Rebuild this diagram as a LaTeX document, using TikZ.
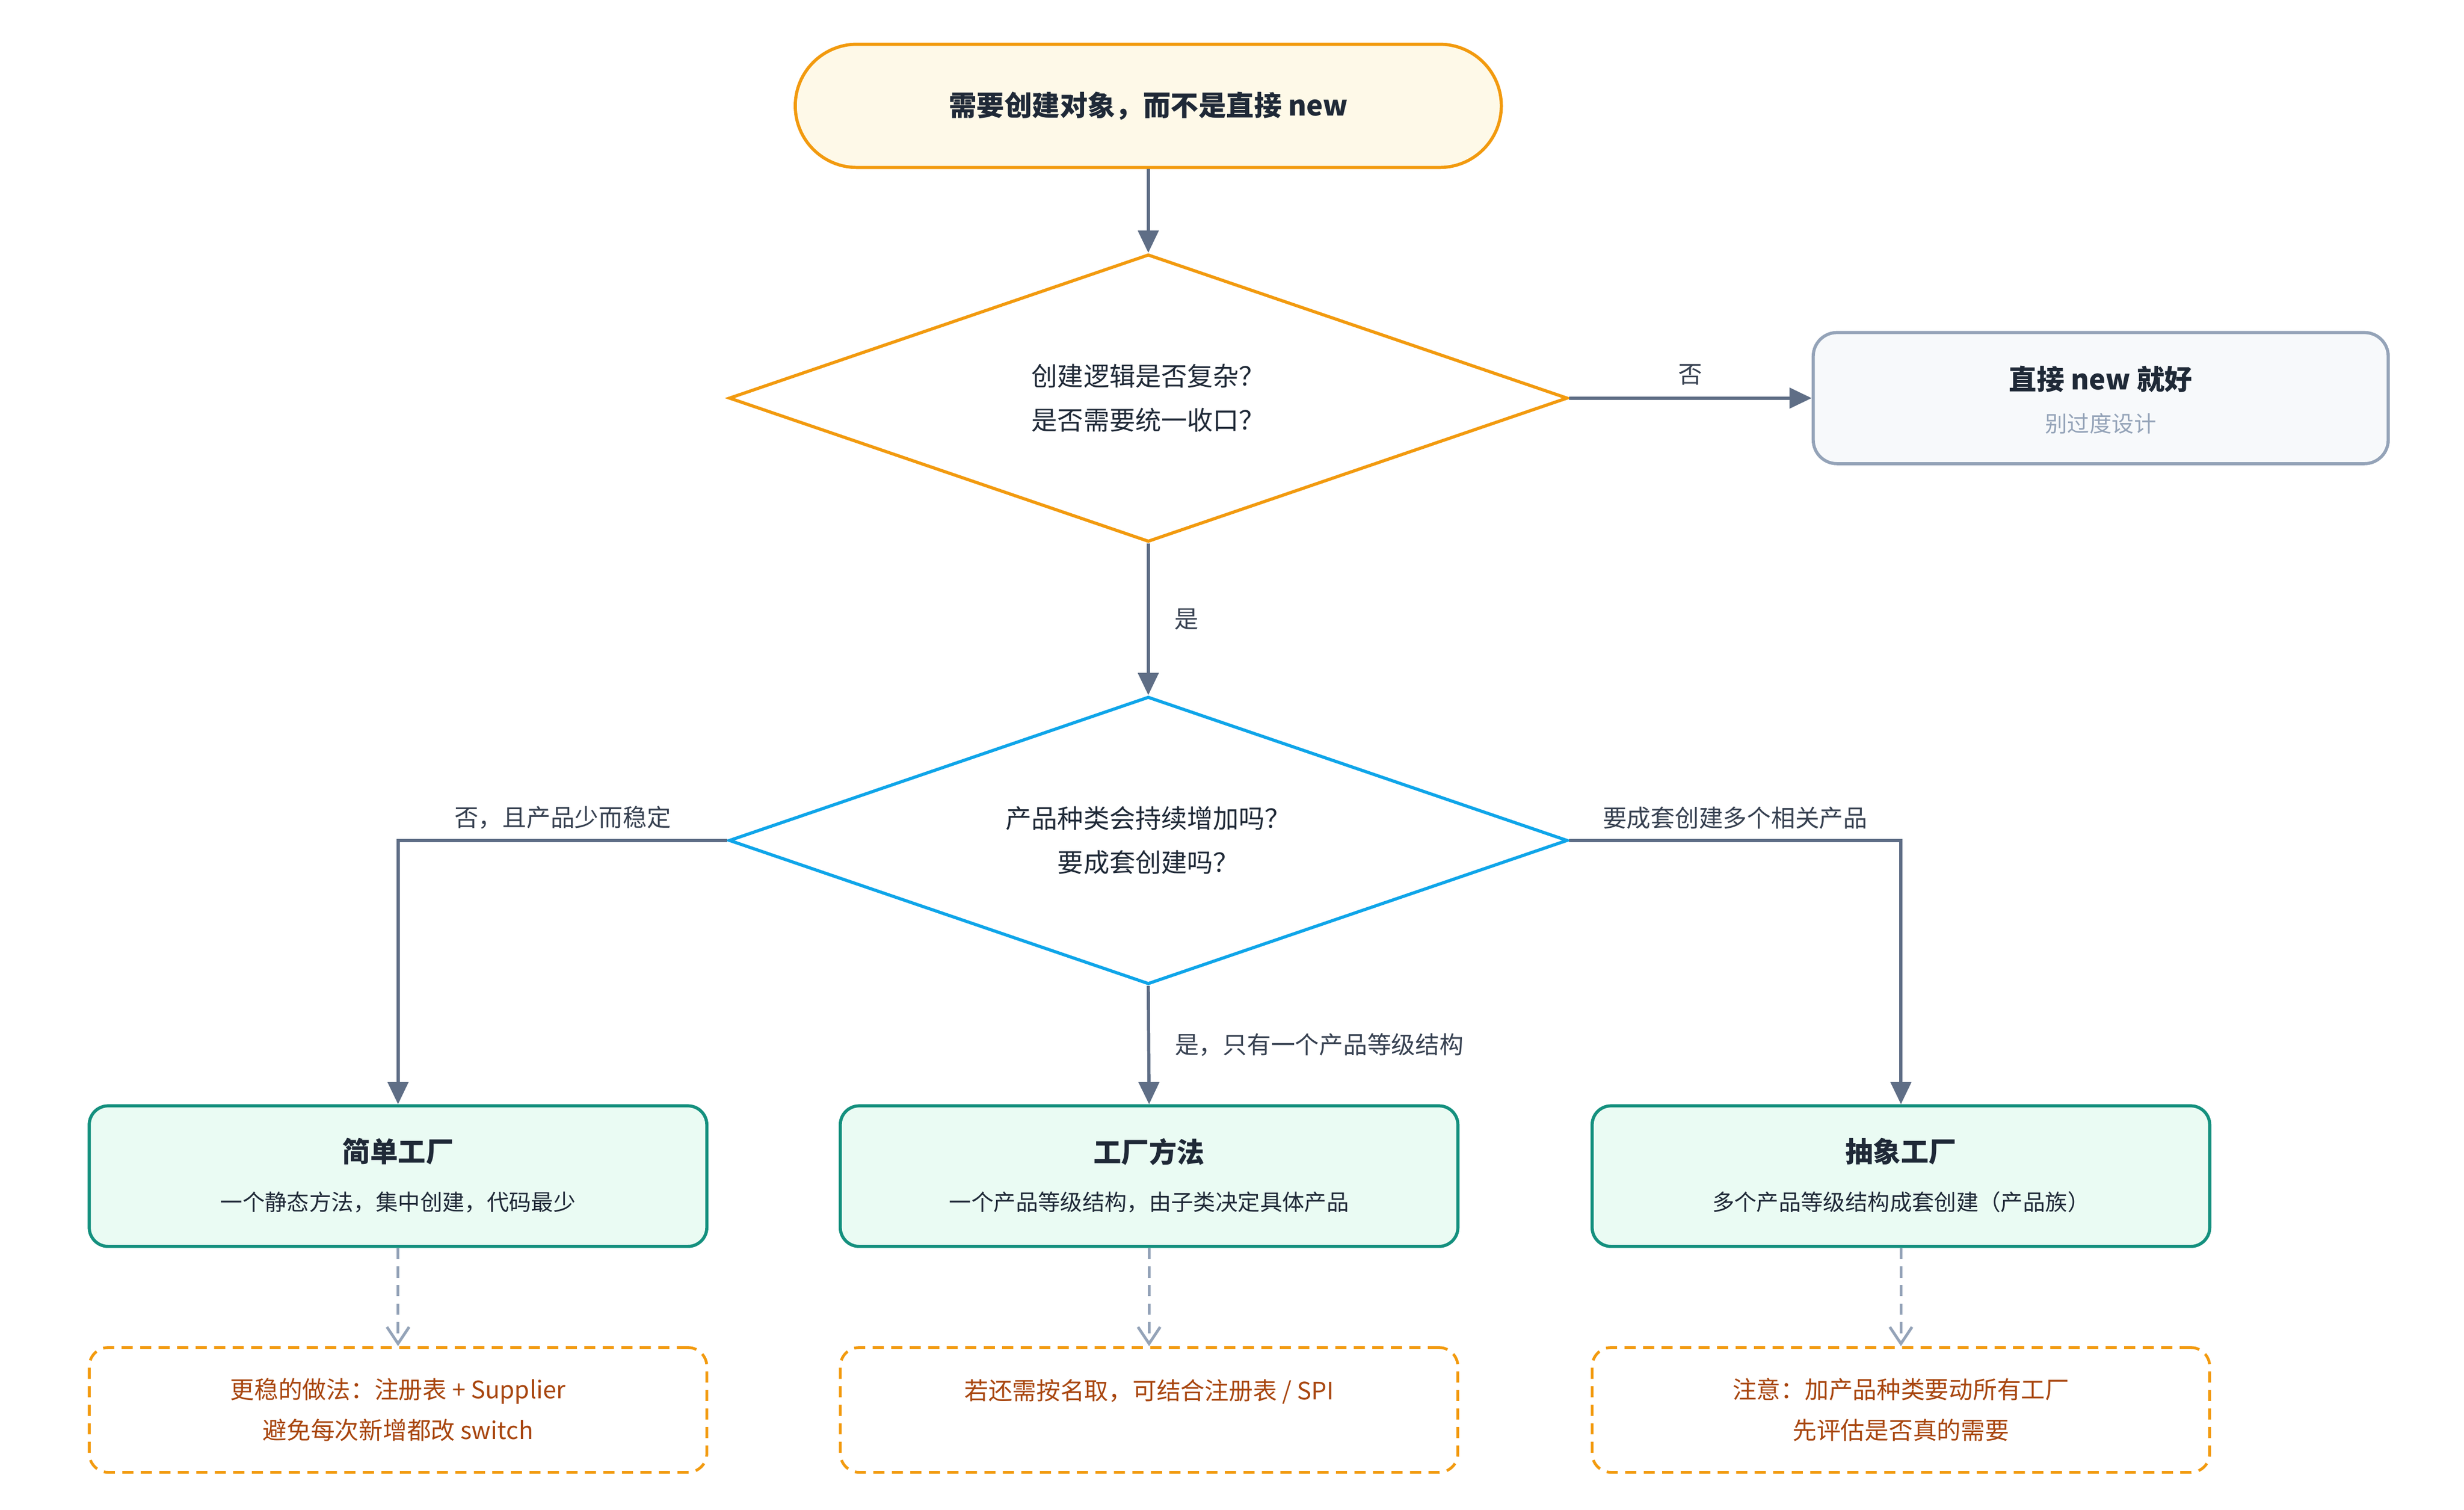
\documentclass[tikz,border=0pt]{standalone}
\usepackage{fontspec}
\setmainfont{Noto Sans CJK SC}
\usetikzlibrary{shapes.geometric,arrows.meta}
\definecolor{orng}{HTML}{F29A0E}
\definecolor{yel}{HTML}{FEF9E8}
\definecolor{blu}{HTML}{0EA5E9}
\definecolor{teal}{HTML}{14907E}
\definecolor{mint}{HTML}{EAFBF3}
\definecolor{slate}{HTML}{5F6E86}
\definecolor{gr}{HTML}{94A3B8}
\definecolor{grfill}{HTML}{F7F9FB}
\definecolor{txt}{HTML}{1F2937}
\definecolor{lbl}{HTML}{374151}
\definecolor{brn}{HTML}{A8460F}
\begin{document}
\begin{tikzpicture}[x=0.03cm,y=-0.03cm,
  every node/.style={text=txt},
  big/.style={font=\fontsize{15}{18}\selectfont\bfseries},
  sub/.style={font=\fontsize{12}{14}\selectfont},
  lab/.style={font=\fontsize{13}{16}\selectfont,text=lbl},
  dia/.style={diamond,draw,line width=1.7pt,fill=white,minimum width=15.93cm,minimum height=5.46cm,shape aspect=2.92,inner sep=0pt,align=center,font=\fontsize{14}{24}\selectfont},
  res/.style={rounded corners=0.36cm,draw=teal,fill=mint,line width=1.7pt,minimum width=11.73cm,minimum height=2.67cm},
  note/.style={rounded corners=0.36cm,draw=orng,dashed,dash pattern=on 6pt off 4pt,line width=1.5pt,minimum width=11.73cm,minimum height=2.37cm,align=center,font=\fontsize{13}{22}\selectfont,text=brn},
  arr/.style={draw=slate,line width=1.7pt,-{Triangle[length=12pt,width=11pt]}},
  darr/.style={draw=gr,line width=1.5pt,dashed,dash pattern=on 6pt off 4pt,-{Straight Barb[length=9pt,width=12pt]}}]
\useasboundingbox (0,0) rectangle (1560,955.5);
\node[rounded corners=1.17cm,draw=orng,fill=yel,line width=1.7pt,minimum width=13.41cm,minimum height=2.34cm,big] (s) at (727,67) {需要创建对象，而不是直接 new};
\node[dia,draw=orng] (d1) at (727,252) {创建逻辑是否复杂？\\是否需要统一收口？};
\node[rounded corners=0.45cm,draw=gr,fill=grfill,line width=1.7pt,minimum width=10.92cm,minimum height=2.49cm] (n) at (1330,252) {};
\node[big] at (1330,240) {直接 new 就好};
\node[sub,text=gr] at (1330,268) {别过度设计};
\node[dia,draw=blu] (d2) at (727,532) {产品种类会持续增加吗？\\要成套创建吗？};
\node[res] (b1) at (252,744.5) {};
\node[res] (b2) at (727.5,744.5) {};
\node[res] (b3) at (1203.5,744.5) {};
\node[big] at (252,729) {简单工厂};
\node[sub] at (252,761) {一个静态方法，集中创建，代码最少};
\node[big] at (727.5,729) {工厂方法};
\node[sub] at (727.5,761) {一个产品等级结构，由子类决定具体产品};
\node[big] at (1203.5,729) {抽象工厂};
\node[sub] at (1203.5,761) {多个产品等级结构成套创建（产品族）};
\node[note] (m1) at (252,892.5) {更稳的做法：注册表 + Supplier\\避免每次新增都改 switch};
\node[note] (m2) at (727.5,892.5) {若还需按名取，可结合注册表 / SPI\\\phantom{x}};
\node[note] (m3) at (1203.5,892.5) {注意：加产品种类要动所有工厂\\先评估是否真的需要};
\draw[arr] (s) -- (d1);
\draw[arr] (d1.east) -- node[lab,above=3pt]{否} (n.west);
\draw[arr] (d1.south) -- node[lab,right=10pt]{是} (d2.north);
\draw[arr] (d2.west) -- node[lab,above=2pt,pos=0.5]{否，且产品少而稳定} (252,532) -- (b1.north);
\draw[arr] (d2.east) -- node[lab,above=2pt,pos=0.5]{要成套创建多个相关产品} (1203.5,532) -- (b3.north);
\draw[arr] (d2.south) -- node[lab,right=10pt,pos=0.5]{是，只有一个产品等级结构} (b2.north);
\draw[darr] (b1.south) -- (m1.north);
\draw[darr] (b2.south) -- (m2.north);
\draw[darr] (b3.south) -- (m3.north);
\end{tikzpicture}
\end{document}
